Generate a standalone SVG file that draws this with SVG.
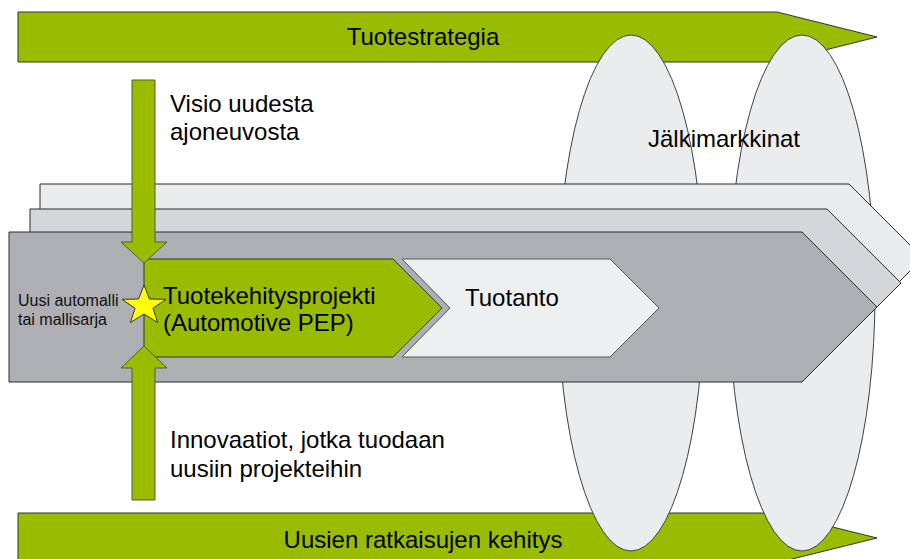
<svg xmlns="http://www.w3.org/2000/svg" width="910" height="559" viewBox="0 0 910 559">
  <style>
    .green { fill: #99bb00; stroke: #3f4a12; stroke-width: 1; }
    .band { fill: #99bb00; stroke: #333333; stroke-width: 1; }
    .oval { fill: #ebecee; stroke: #404040; stroke-width: 1; }
    .g1 { fill: #ebecee; stroke: #2b2b2b; stroke-width: 1; }
    .g2 { fill: #d5d6d9; stroke: #2b2b2b; stroke-width: 1; }
    .g3 { fill: #adafb3; stroke: #2b2b2b; stroke-width: 1; }
    .phase { fill: #eeeff1; stroke: #555555; stroke-width: 1; }
    .vert { fill: #99bb00; stroke: #55612a; stroke-width: 1; }
    .t { font-family: "Liberation Sans", Arial, sans-serif; font-size: 24px; fill: #000000; }
    .ts { font-family: "Liberation Sans", Arial, sans-serif; font-size: 16px; fill: #111111; }
  </style>

  <!-- strategy band (top) -->
  <g id="tuotestrategia">
    <polygon class="band" points="18,12 777,12 877,37 777,62 18,62"/>
    <text class="t" x="423" y="45" text-anchor="middle">Tuotestrategia</text>
  </g>

  <!-- development band (bottom) -->
  <g id="uusien-ratkaisujen-kehitys">
    <polygon class="band" points="18,513 776,513 877,538 776,563 18,563"/>
    <text class="t" x="423" y="548" text-anchor="middle">Uusien ratkaisujen kehitys</text>
  </g>

  <!-- aftermarket ovals -->
  <g id="jalkimarkkinat">
    <ellipse class="oval" cx="631" cy="293" rx="73" ry="258"/>
    <ellipse class="oval" cx="802" cy="293" rx="73" ry="258"/>
    <text class="t" x="648" y="147">Jälkimarkkinat</text>
  </g>

  <!-- stacked model-series arrows -->
  <g id="mallisarjat">
    <polygon class="g1" points="40,184 849,184 923,258 849,332 40,332"/>
    <polygon class="g2" points="30,209 827,209 901,283 827,357 30,357"/>
    <polygon class="g3" points="9,232 802,232 877,307 802,382 9,382"/>
    <text class="ts" x="18" y="306">Uusi automalli</text>
    <text class="ts" x="18" y="325">tai mallisarja</text>
  </g>

  <!-- product development project -->
  <g id="tuotekehitysprojekti">
    <polygon class="band" points="144,259 393,259 442,308 393,357 144,357"/>
    <text class="t" x="163" y="304">Tuotekehitysprojekti</text>
    <text class="t" x="163" y="331">(Automotive PEP)</text>
  </g>

  <!-- production -->
  <g id="tuotanto">
    <polygon class="phase" points="402,259 610,259 659,308 610,357 402,357 450,308"/>
    <text class="t" x="465" y="306">Tuotanto</text>
  </g>

  <!-- input arrows into the project -->
  <g id="connectors">
    <polygon class="vert" points="132,80 155,80 155,242 167,242 144,263 121,242 132,242"/>
    <polygon class="vert" points="144,346 167,368 155,368 155,500 132,500 132,368 121,368"/>
  </g>

  <g id="visio">
    <text class="t" x="170" y="112">Visio uudesta</text>
    <text class="t" x="170" y="140">ajoneuvosta</text>
  </g>

  <g id="innovaatiot">
    <text class="t" x="170" y="448">Innovaatiot, jotka tuodaan</text>
    <text class="t" x="170" y="477">uusiin projekteihin</text>
  </g>

  <!-- start milestone -->
  <g id="aloitus">
    <polygon fill="#ffff00" stroke="#333333" stroke-width="1" points="144,285 149.5,299 166,299.3 153,308.3 157.6,322.5 144,314 130.4,322.5 135,308.3 122,299.3 138.5,299"/>
  </g>
</svg>
